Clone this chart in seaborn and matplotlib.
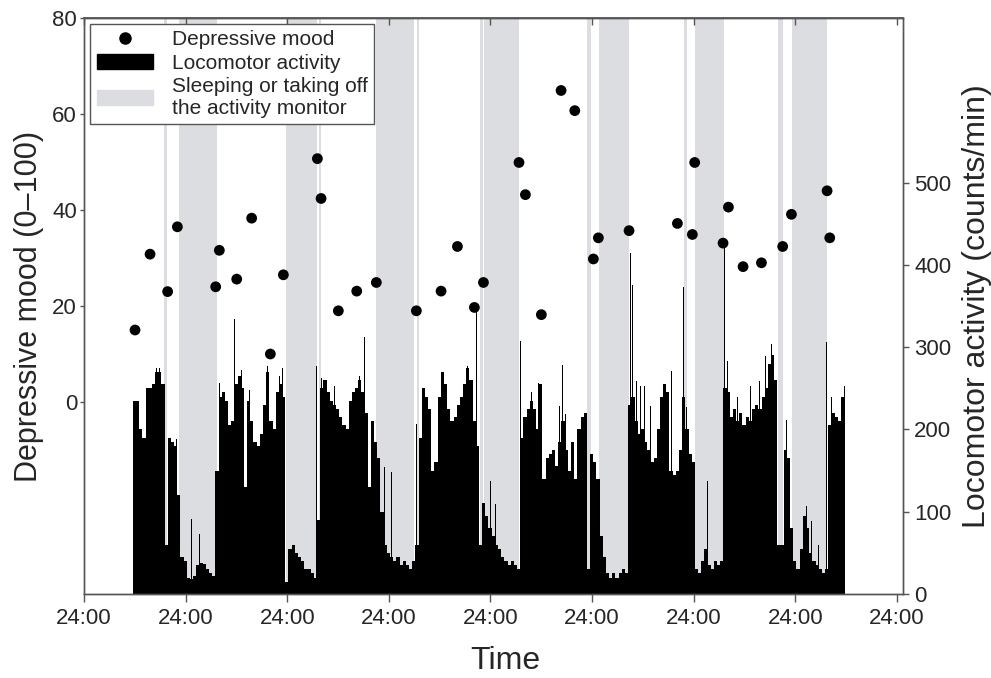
import numpy as np
import matplotlib
matplotlib.use("Agg")
import matplotlib.pyplot as plt
import seaborn as sns
from matplotlib.lines import Line2D
from matplotlib.patches import Patch

# depressive mood ratings (day, score)
mood_day = [0.502, 0.650, 0.823, 0.919, 1.296, 1.332, 1.503, 1.650, 1.834, 1.962,
            2.297, 2.333, 2.503, 2.684, 2.877, 3.271, 3.514, 3.675, 3.842, 3.931,
            4.281, 4.344, 4.501, 4.695, 4.830, 5.013, 5.062, 5.364, 5.840, 5.987,
            6.010, 6.289, 6.342, 6.486, 6.667, 6.876, 6.962, 7.313, 7.339]
mood_val = [15.0, 30.8, 23.0, 36.5, 24.0, 31.6, 25.6, 38.3, 10.0, 26.5,
            50.7, 42.4, 19.0, 23.1, 24.9, 19.0, 23.1, 32.4, 19.7, 24.9,
            49.9, 43.2, 18.2, 64.9, 60.7, 29.8, 34.2, 35.7, 37.2, 34.9,
            49.9, 33.1, 40.6, 28.2, 29.0, 32.4, 39.1, 44.0, 34.2]

# locomotor activity, 45-min bins starting at day 0.4804
act_start = 0.4804
act_bin = 1 / 32
activity = [
    235, 235, 200, 190, 250, 250, 255, 270, 270, 255,
    60, 190, 185, 180, 120, 45, 40, 20, 18, 22,
    35, 38, 36, 30, 25, 22, 150, 240, 245, 235,
    205, 210, 255, 265, 250, 130, 235, 210, 185, 180,
    195, 230, 270, 210, 200, 245, 255, 240, 15, 55,
    60, 50, 45, 40, 30, 30, 25, 20, 90, 250,
    260, 245, 235, 230, 225, 215, 205, 200, 235, 245,
    250, 260, 245, 220, 130, 210, 185, 165, 100, 60,
    50, 45, 40, 45, 35, 40, 35, 30, 40, 60,
    190, 250, 240, 225, 150, 160, 240, 270, 255, 225,
    210, 215, 230, 240, 255, 275, 260, 210, 180, 60,
    110, 95, 80, 70, 60, 55, 45, 40, 35, 40,
    35, 30, 190, 215, 225, 235, 225, 200, 255, 140,
    165, 170, 175, 155, 185, 210, 175, 150, 185, 140,
    200, 215, 220, 30, 170, 160, 140, 70, 45, 25,
    20, 25, 20, 25, 30, 25, 230, 240, 210, 195,
    200, 185, 175, 160, 165, 200, 240, 255, 245, 150,
    145, 150, 175, 240, 200, 170, 160, 30, 25, 40,
    55, 35, 30, 40, 35, 40, 250, 245, 215, 225,
    210, 220, 205, 215, 210, 225, 230, 225, 240, 250,
    280, 290, 260, 60, 60, 175, 165, 80, 40, 30,
    55, 95, 80, 50, 40, 35, 30, 25, 30, 205,
    220, 215, 210, 240,
]

# short bursts of activity (day, counts/min)
spike_day = [0.531, 0.630, 0.712, 0.745, 0.827, 0.876, 0.909, 0.942, 1.056, 1.139,
             1.299, 1.336, 1.368, 1.481, 1.548, 1.631, 1.778, 1.806, 1.926, 1.954,
             2.205, 2.288, 2.336, 2.467, 2.628, 2.713, 2.761, 2.844, 2.960, 3.025,
             3.091, 3.271, 3.337, 3.406, 3.514, 3.671, 3.773, 3.817, 3.863, 3.927,
             3.976, 4.003, 4.048, 4.134, 4.293, 4.403, 4.475, 4.616, 4.682, 4.708,
             4.741, 4.823, 4.921, 5.020, 5.059, 5.108, 5.207, 5.305, 5.377, 5.401,
             5.436, 5.479, 5.518, 5.578, 5.709, 5.781, 5.863, 5.903, 5.928, 5.994,
             6.083, 6.135, 6.240, 6.302, 6.332, 6.430, 6.476, 6.562, 6.650, 6.710,
             6.767, 6.912, 7.028, 7.077, 7.110, 7.159, 7.231, 7.306, 7.355, 7.481]
spike_val = [239, 251, 275, 275, 200, 377, 188, 91, 91, 73,
             332, 257, 247, 334, 272, 248, 229, 277, 265, 275,
             66, 277, 263, 253, 284, 265, 312, 297, 154, 148,
             60, 206, 257, 274, 279, 269, 277, 381, 346, 180,
             107, 137, 109, 111, 308, 245, 257, 190, 229, 278,
             219, 248, 251, 202, 186, 89, 56, 64, 414, 376,
             259, 253, 253, 229, 281, 271, 170, 373, 227, 194,
             75, 137, 48, 427, 283, 239, 287, 253, 259, 289,
             304, 212, 58, 107, 107, 89, 60, 306, 240, 253]

# sleeping / monitor off periods (start, end) in days
off_start = [0.787, 0.935, 1.985, 2.313, 2.877, 3.275, 3.898, 3.940, 4.954, 5.069,
             5.903, 6.017, 6.834, 6.965]
off_end = [0.817, 1.309, 2.290, 2.330, 3.248, 3.297, 3.924, 4.284, 4.987, 5.367,
           5.932, 6.296, 6.876, 7.316]

day_ticks = list(range(9))
day_labels = ["24:00"] * 9

sns.set_theme(style="ticks")
plt.rcParams["font.family"] = ["Liberation Sans", "DejaVu Sans"]

band_color = "#dcdde0"
spine_color = "#555555"

fig = plt.figure(figsize=(9.91, 6.78), dpi=100)
ax = fig.add_axes([84 / 991, 84 / 678, 819 / 991, 576 / 678])
ax2 = ax.twinx()
ax.set_zorder(ax2.get_zorder() + 1)
ax.patch.set_visible(False)

for s, e in zip(off_start, off_end):
    ax2.axvspan(s, e, color=band_color, lw=0, zorder=0)

act_x = act_start + np.arange(len(activity)) * act_bin
ax2.bar(act_x, activity, width=act_bin, align="edge", color="black", lw=0, zorder=2)
ax2.bar(spike_day, spike_val, width=0.007, color="black", lw=0, zorder=2)

sns.scatterplot(x=mood_day, y=mood_val, ax=ax, color="black", s=60,
                edgecolor="none", zorder=5)

ax.set_xlim(0, 8.06)
ax.set_ylim(-40, 80)
ax.set_yticks([0, 20, 40, 60, 80])
ax2.set_ylim(0, 700)
ax2.set_yticks([0, 100, 200, 300, 400, 500])
ax.set_xticks(day_ticks)
ax.set_xticklabels(day_labels)

ax.tick_params(axis="x", labelsize=16, length=6, width=1, color=spine_color, pad=4)
ax.tick_params(axis="y", labelsize=16, length=3, width=1, color=spine_color, pad=2)
ax2.tick_params(axis="y", labelsize=16, length=4, width=1, color=spine_color, pad=4)

top = ax.secondary_xaxis("top")
top.set_xticks(day_ticks)
top.tick_params(direction="in", length=5, width=1, color=spine_color, labeltop=False)
top.spines["top"].set_color(spine_color)

for a in (ax, ax2):
    for sp in a.spines.values():
        sp.set_color(spine_color)
        sp.set_linewidth(1)

ax.set_xlabel("Time", fontsize=23)
ax.xaxis.set_label_coords((505 - 84) / 819, -(646 - 594) / 576)
ax.set_ylabel("Depressive mood (0\u2013100)", fontsize=22, labelpad=6)
ax2.set_ylabel("Locomotor activity (counts/min)", fontsize=23, labelpad=8)

handles = [
    Line2D([], [], marker="o", color="black", ls="none", markersize=8),
    Patch(facecolor="black", edgecolor="black"),
    Patch(facecolor=band_color, edgecolor=band_color),
]
labels = ["Depressive mood", "Locomotor activity",
          "Sleeping or taking off\nthe activity monitor"]
leg = ax.legend(handles, labels, loc="upper left", fontsize=15, frameon=True,
                fancybox=False, framealpha=1, edgecolor=spine_color,
                handlelength=2.7, handletextpad=0.9, labelspacing=0.2,
                borderaxespad=0.3, borderpad=0.3)
leg.get_frame().set_linewidth(1)

fig.savefig("out.png", dpi=100)
